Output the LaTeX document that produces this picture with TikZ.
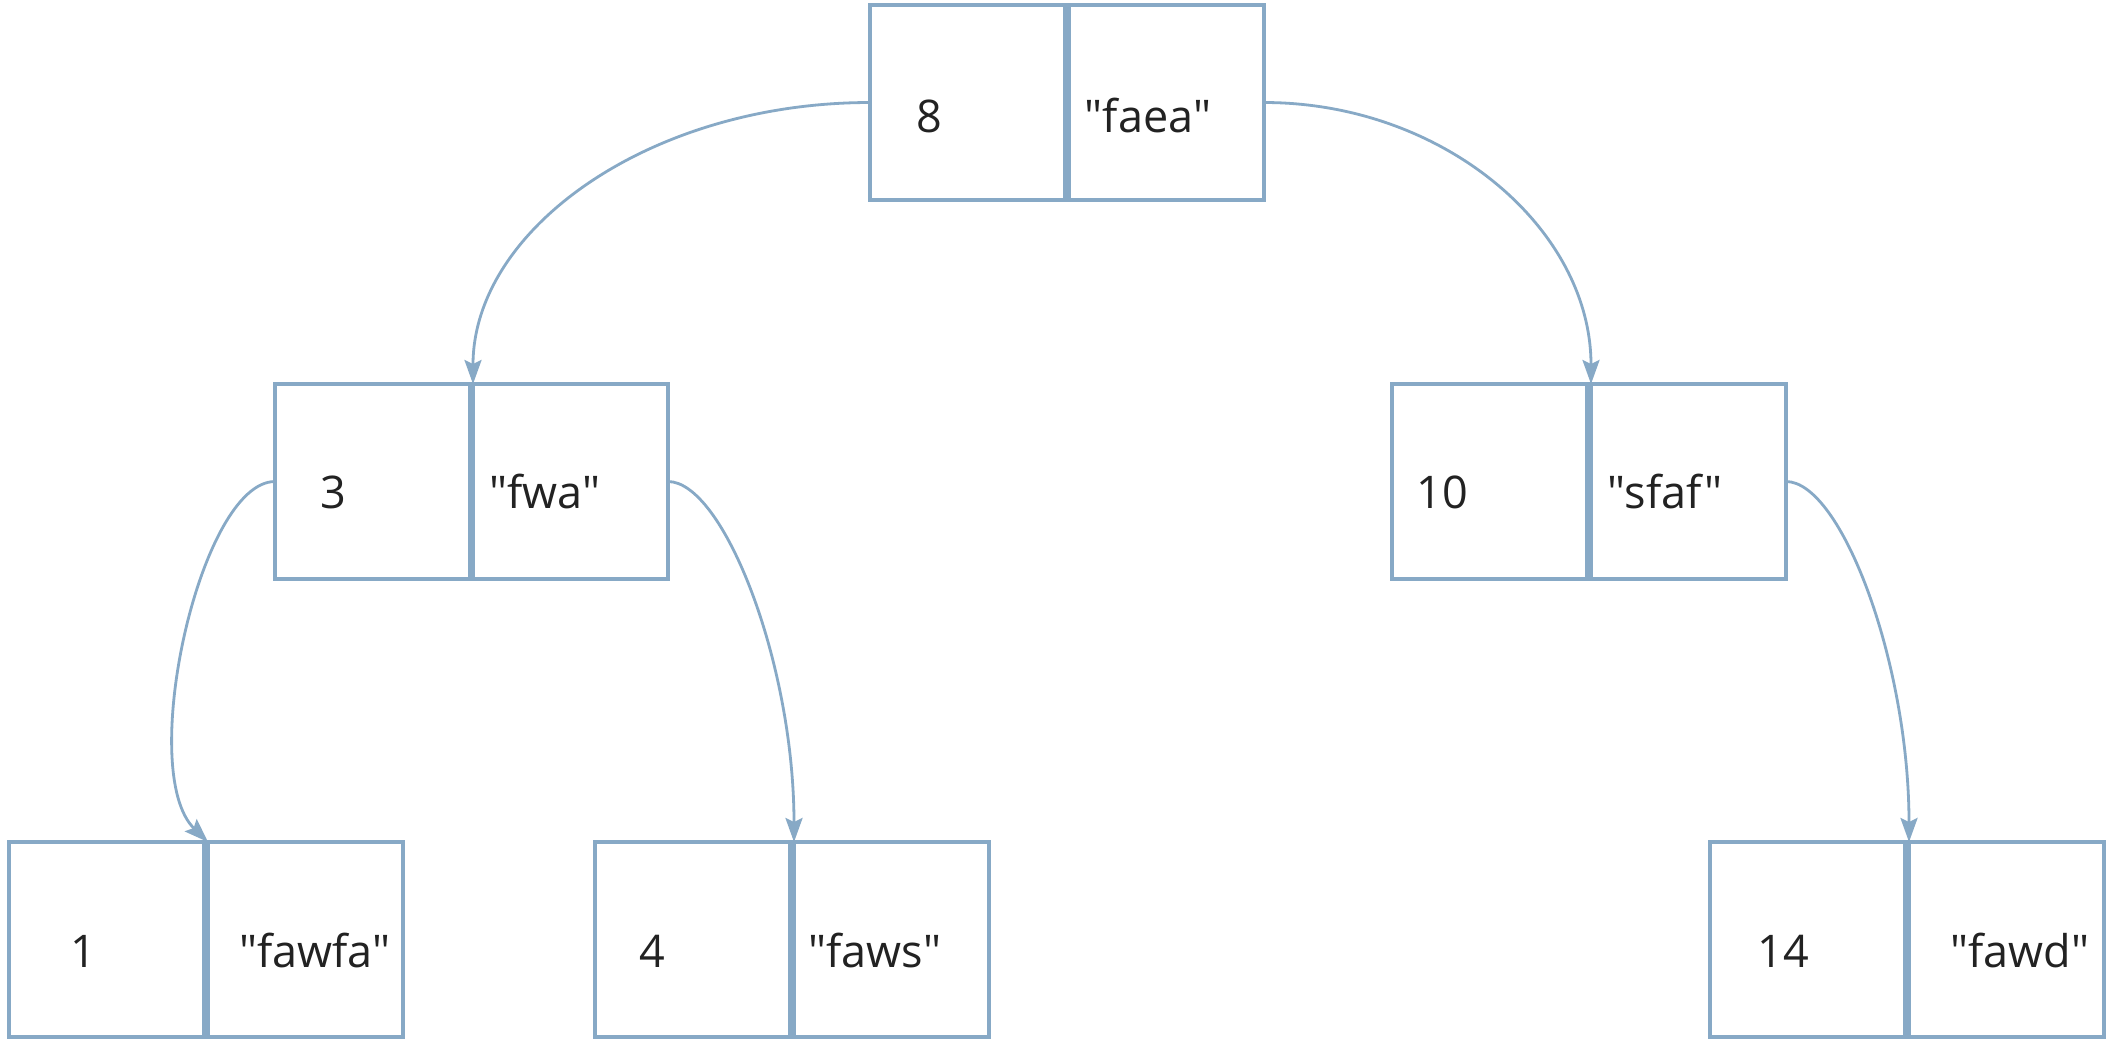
\documentclass[tikz,border=0pt]{standalone}
\usepackage{fontspec}
\setmainfont{Open Sans}[Ligatures=TeXOff]
\usetikzlibrary{arrows.meta}
\definecolor{edgeblue}{RGB}{135,169,198}
\definecolor{txt}{RGB}{34,34,34}
\begin{document}
\begin{tikzpicture}[x=0.5pt,y=-0.5pt,
  cell/.style={draw=edgeblue, line width=1.8pt, minimum width=97.5pt, minimum height=97.5pt, inner sep=0pt, outer sep=0pt, anchor=north west, fill=white},
  lbl/.style={anchor=base, text=txt, font=\fontsize{22.5}{26}\selectfont, inner sep=0pt},
  conn/.style={draw=edgeblue, line width=1.4pt, -{Stealth[length=12pt,width=8.5pt,inset=2pt]}}]
\useasboundingbox (0,0) rectangle (2118,1041);
\fill[white] (0,0) rectangle (2118,1041);
% cells
\node[cell] (k8) at (870,5) {};
\node[cell] (v8) at (1069,5) {};
\node[cell] (k3) at (275,384) {};
\node[cell] (v3) at (473,384) {};
\node[cell] (k10) at (1392,384) {};
\node[cell] (v10) at (1591,384) {};
\node[cell] (k1) at (9,842) {};
\node[cell] (v1) at (208,842) {};
\node[cell] (k4) at (595,842) {};
\node[cell] (v4) at (794,842) {};
\node[cell] (k14) at (1710,842) {};
\node[cell] (v14) at (1909,842) {};
% labels
\node[lbl] (t8) at (929,132) {8};
\node[lbl] (tfaea) at (1148,132) {"faea"};
\node[lbl] (t3) at (333,508) {3};
\node[lbl] (tfwa) at (545,508) {"fwa"};
\node[lbl] (t10) at (1442,508) {10};
\node[lbl] (tsfaf) at (1665,508) {"sfaf"};
\node[lbl] (t1) at (83,967) {1};
\node[lbl] (tfawfa) at (315,967) {"fawfa"};
\node[lbl] (t4) at (652,967) {4};
\node[lbl] (tfaws) at (875,967) {"faws"};
\node[lbl] (t14) at (1783,967) {14};
\node[lbl] (tfawd) at (2020,967) {"fawd"};
% connectors
\draw[conn] (k8.west) .. controls +(-220,0) and +(0,-155) .. (v3.north west);
\draw[conn] (v8.east) .. controls +(180,0) and +(0,-155) .. (v10.north west);
\draw[conn] (k3.west) .. controls +(-75,0) and +(-72,-70) .. (v1.north west);
\draw[conn] (v3.east) .. controls +(55,0) and +(0,-180) .. (v4.north west);
\draw[conn] (v10.east) .. controls +(55,0) and +(0,-180) .. (v14.north west);
\end{tikzpicture}
\end{document}
